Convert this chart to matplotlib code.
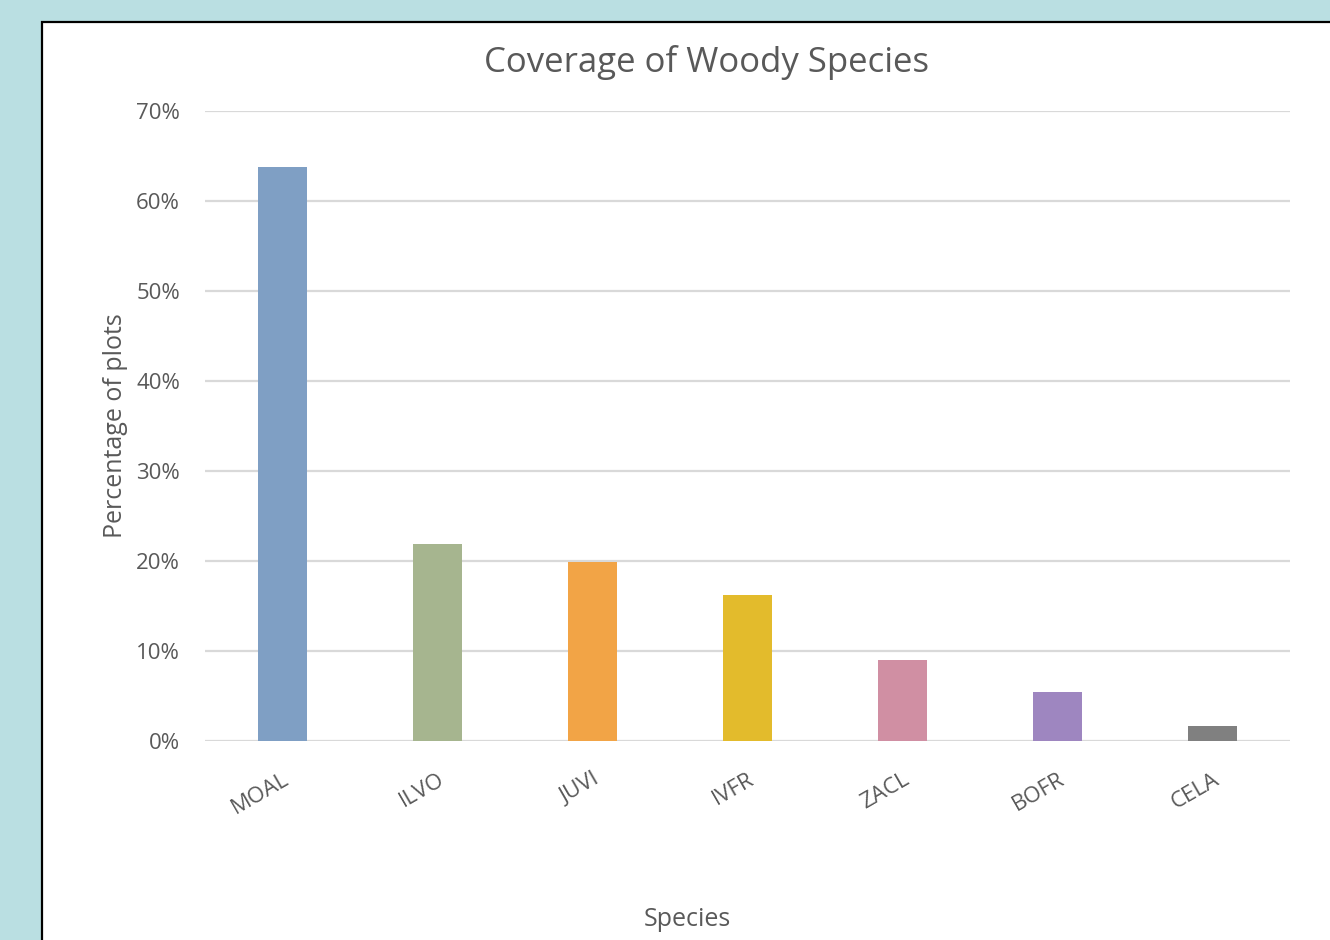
import matplotlib
matplotlib.use('Agg')
import matplotlib.pyplot as plt
from matplotlib.patches import Rectangle
from matplotlib.ticker import PercentFormatter

species = ['MOAL', 'ILVO', 'JUVI', 'IVFR', 'ZACL', 'BOFR', 'CELA']
coverage = [0.638, 0.219, 0.199, 0.162, 0.090, 0.054, 0.017]
colours = ['#7f9fc4', '#a6b58f', '#f2a446', '#e3bb2c', '#d08fa3', '#9e86c0', '#808080']

plt.rcParams['font.family'] = ['Open Sans', 'DejaVu Sans']
txt = '#595959'


def main() -> None:
    fig = plt.figure(figsize=(13.3, 9.4), dpi=100, facecolor='#badfe2')

    # white chart panel with black frame
    panel = Rectangle((42 / 1330, -0.01), 1.0, 1 - 22 / 940 + 0.01,
                      transform=fig.transFigure, facecolor='white',
                      edgecolor='black', linewidth=1.6, zorder=-5)
    fig.patches.append(panel)

    ax = fig.add_axes([205 / 1330, 1 - 741 / 940, 1085 / 1330, 630 / 940])
    ax.set_facecolor('none')

    ax.bar(range(len(species)), coverage, width=0.315, color=colours, zorder=3)

    ax.set_xlim(-0.5, len(species) - 0.5)
    ax.set_ylim(0, 0.7)
    ax.set_yticks([i / 10 for i in range(8)])
    ax.yaxis.set_major_formatter(PercentFormatter(1.0, decimals=0))
    ax.grid(axis='y', color='#d9d9d9', linewidth=1.6, zorder=0)
    ax.set_axisbelow(True)
    for s in ax.spines.values():
        s.set_visible(False)

    ax.tick_params(axis='both', length=0, colors=txt, labelsize=16)
    ax.tick_params(axis='y', pad=18)
    ax.set_xticks(range(len(species)))
    ax.set_xticklabels(species, rotation=30, ha='right', va='top',
                       rotation_mode='anchor')
    ax.tick_params(axis='x', pad=20)

    fig.text(706 / 1330, 1 - 62 / 940, 'Coverage of Woody Species',
             fontsize=25, color=txt, ha='center', va='center')
    ax.set_ylabel('Percentage of plots', fontsize=18, color=txt, labelpad=6)
    fig.text(687 / 1330, 1 - 920 / 940, 'Species', fontsize=18, color=txt,
             ha='center', va='center')

    fig.savefig('out.png', dpi=100, facecolor=fig.get_facecolor())


if __name__ == '__main__':
    main()
